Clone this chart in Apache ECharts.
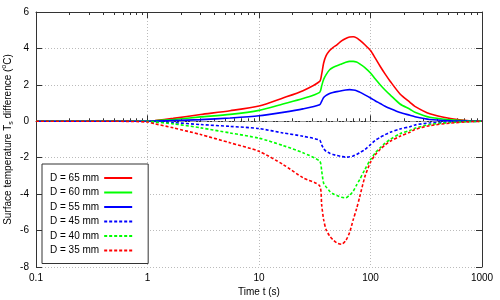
<!DOCTYPE html>
<html><head><meta charset="utf-8">
<script src="https://cdn.jsdelivr.net/npm/echarts@6/dist/echarts.min.js"></script>
<style>html,body{margin:0;padding:0;background:#fff}#c{width:500px;height:300px}</style>
</head><body><div id="c"></div>
<script>
const times = [0.1, 0.5, 1, 1.17, 1.7, 3, 5.5, 10, 16.4, 24.8, 35, 36.5, 38, 40, 43, 46, 50, 55, 60, 65, 70, 75, 80, 89, 100, 110, 122, 135, 150, 184, 226, 250, 340, 520, 730, 1000];
const seriesNames = ['D = 65 mm', 'D = 60 mm', 'D = 55 mm', 'D = 45 mm', 'D = 40 mm', 'D = 35 mm'];
const d65 = [0, 0, 0, 0.04, 0.16, 0.37, 0.58, 0.84, 1.28, 1.68, 2.19, 2.6, 3.2, 3.6, 3.88, 4.05, 4.2, 4.42, 4.55, 4.63, 4.64, 4.58, 4.45, 4.2, 3.88, 3.48, 3.02, 2.6, 2.2, 1.5, 1.04, 0.82, 0.41, 0.15, 0.04, 0];
const d60 = [0, 0, 0, 0.03, 0.1, 0.24, 0.38, 0.6, 0.95, 1.25, 1.59, 1.95, 2.3, 2.56, 2.83, 2.95, 3.05, 3.15, 3.24, 3.29, 3.29, 3.25, 3.15, 2.95, 2.65, 2.33, 2.01, 1.72, 1.45, 0.95, 0.66, 0.5, 0.22, 0.08, 0.02, 0];
const d55 = [0, 0, 0, 0.01, 0.04, 0.09, 0.18, 0.3, 0.49, 0.68, 0.91, 1.1, 1.3, 1.42, 1.52, 1.58, 1.63, 1.68, 1.72, 1.74, 1.72, 1.68, 1.6, 1.45, 1.28, 1.13, 0.98, 0.83, 0.7, 0.48, 0.33, 0.25, 0.1, 0.03, 0.01, 0];
const d45 = [0, 0, 0, -0.02, -0.07, -0.18, -0.28, -0.4, -0.64, -0.82, -1.04, -1.3, -1.5, -1.65, -1.75, -1.82, -1.88, -1.93, -1.97, -1.95, -1.9, -1.82, -1.72, -1.55, -1.28, -1.05, -0.88, -0.74, -0.6, -0.42, -0.3, -0.2, -0.09, -0.03, -0.01, 0];
const d40 = [0, 0, 0, -0.04, -0.14, -0.36, -0.64, -0.93, -1.33, -1.73, -2.19, -2.74, -3.4, -3.6, -3.84, -3.98, -4.08, -4.17, -4.2, -4.05, -3.84, -3.5, -3.2, -2.65, -2.1, -1.75, -1.46, -1.2, -1.0, -0.68, -0.5, -0.38, -0.18, -0.07, -0.02, 0];
const d35 = [0, 0, -0.04, -0.14, -0.36, -0.73, -1.18, -1.65, -2.37, -3.1, -3.55, -4.6, -5.4, -5.95, -6.3, -6.5, -6.68, -6.75, -6.55, -6.1, -5.4, -4.8, -4.15, -3.05, -2.25, -1.85, -1.55, -1.3, -1.1, -0.82, -0.6, -0.45, -0.24, -0.1, -0.03, 0];
const seriesValues = [d65, d60, d55, d45, d40, d35];
const seriesColors = ['#ff0000', '#00ff00', '#0000ff', '#0000ff', '#00ff00', '#ff0000'];
const seriesDashed = [false, false, false, true, true, true];
const xMajorTicks = [0.1, 1, 10, 100, 1000];
const yTicks = [-8, -6, -4, -2, 0, 2, 4, 6];

const minorTicks = [];
for (let i = 0; i < xMajorTicks.length - 1; i++) {
  for (let k = 2; k <= 9; k++) minorTicks.push(+(xMajorTicks[i] * k).toPrecision(3));
}
const FONT = 'Liberation Sans, Arial, sans-serif';
const axisColor = '#333';
const gridLine = { show: true, lineStyle: { color: '#bbb', type: [1, 2], width: 1 } };

function xAx(pos, opts) {
  return Object.assign({
    type: 'log', logBase: 10, min: 0.1, max: 1000, position: pos, gridIndex: 0,
    axisLine: { show: true, lineStyle: { color: axisColor, width: 1 } },
    axisTick: { show: true, inside: true, length: 6, lineStyle: { color: axisColor } },
    axisLabel: { show: false },
    splitLine: { show: false }
  }, opts);
}

const xAxes = [
  xAx('bottom', {
    name: 'Time t (s)', nameLocation: 'middle', nameGap: 20, nameMoveOverlap: false,
    nameTextStyle: { fontFamily: FONT, fontSize: 10, color: '#000' },
    axisLabel: { show: true, fontFamily: FONT, fontSize: 10, color: '#000', margin: 6,
      formatter: v => String(+(+v).toPrecision(3)) },
    splitLine: gridLine
  }),
  xAx('bottom', { axisLine: { show: false }, axisTick: { show: true, inside: true, length: 3, customValues: minorTicks, lineStyle: { color: axisColor } } }),
  xAx('top', {}),
  xAx('top', { axisLine: { show: false }, axisTick: { show: true, inside: true, length: 3, customValues: minorTicks, lineStyle: { color: axisColor } } })
];

const yAxes = [
  {
    type: 'value', min: -8, max: 6, interval: 2, position: 'left',
    name: 'Surface temperature T{sub|s} difference ({sup|o}C)',
    nameLocation: 'middle', nameGap: 21, nameMoveOverlap: false,
    nameTextStyle: { fontFamily: FONT, fontSize: 10, color: '#000', lineHeight: 14,
      rich: {
        sub: { fontFamily: FONT, fontSize: 7, color: '#000', verticalAlign: 'bottom', lineHeight: 14, padding: [5, 0, 0, 0] },
        sup: { fontFamily: FONT, fontSize: 7, color: '#000', verticalAlign: 'top', lineHeight: 14, padding: [0, 0, 5, 0] }
      } },
    axisLine: { show: true, lineStyle: { color: axisColor, width: 1 } },
    axisTick: { show: true, inside: true, length: 6, lineStyle: { color: axisColor } },
    axisLabel: { fontFamily: FONT, fontSize: 10, color: '#000', margin: 7 },
    splitLine: gridLine
  },
  {
    type: 'value', min: -8, max: 6, interval: 2, position: 'right',
    axisLine: { show: true, lineStyle: { color: axisColor, width: 1 } },
    axisTick: { show: true, inside: true, length: 6, lineStyle: { color: axisColor } },
    axisLabel: { show: false }, splitLine: { show: false }
  }
];

const series = seriesNames.map((name, i) => {
  const s = {
    name, type: 'line', xAxisIndex: 0, yAxisIndex: 0,
    data: times.map((t, j) => [t, seriesValues[i][j]]),
    symbol: 'none', showSymbol: false, smooth: 0.25,
    lineStyle: { color: seriesColors[i], width: 1.6, type: seriesDashed[i] ? [3, 2] : 'solid' },
    itemStyle: { color: seriesColors[i] },
    z: 3
  };
  if (i === 0) {
    s.markLine = {
      silent: true, symbol: ['none', 'none'], label: { show: false },
      lineStyle: { color: '#999', type: [6, 2, 1, 2], width: 1.2 },
      data: [{ yAxis: 0 }], z: 1
    };
  }
  return s;
});

const chart = echarts.init(document.getElementById('c'), null, { renderer: 'canvas' });
chart.setOption({
  animation: false,
  backgroundColor: '#fff',
  grid: { left: 36, right: 18, top: 12, bottom: 33, containLabel: false, outerBoundsMode: 'none' },
  xAxis: xAxes,
  yAxis: yAxes,
  legend: {
    data: seriesNames, orient: 'vertical', left: 42, top: 164,
    align: 'right', itemWidth: 28, itemHeight: 10, itemGap: 4.5,
    padding: [9, 15, 8, 8], borderColor: '#333', borderWidth: 1,
    itemStyle: { color: 'rgba(0,0,0,0)', borderColor: 'rgba(0,0,0,0)', borderWidth: 0 },
    textStyle: { fontFamily: FONT, fontSize: 10, color: '#000' },
    backgroundColor: '#fff'
  },
  series
});
</script></body></html>
